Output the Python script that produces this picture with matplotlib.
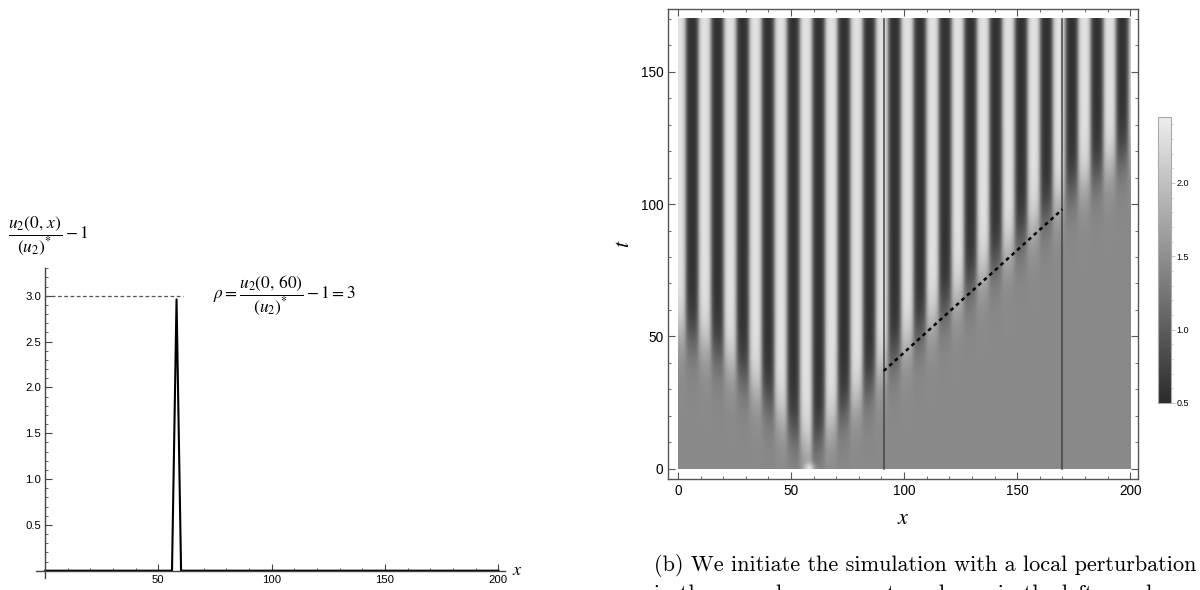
import numpy as np
import matplotlib
matplotlib.use("Agg")
import matplotlib.pyplot as plt
from matplotlib.colors import LinearSegmentedColormap
from matplotlib.ticker import MultipleLocator

plt.rcParams['mathtext.fontset'] = 'stix'
plt.rcParams['font.family'] = ['Liberation Sans', 'DejaVu Sans']

# left panel: initial profile u2(0,x)/(u2)* - 1
init_x = [0, 56, 58, 60, 200]
init_y = [0, 0, 2.96, 0, 0]
rho = 3.0
rho_line_end = 61

# right panel: space-time plot
x_max, t_max = 200, 170
wavelength = 11.2      # stripe spacing in x
dark_x0 = 6.0          # centre of first dark stripe
u_star = 1.45          # homogeneous state (grey)
amp = 0.88             # stripe amplitude
front_width = 5.5
# time at which the stripes appear, per x
front_x = [0, 10, 20, 30, 40, 50, 58, 65, 75, 85, 91, 130, 170, 172, 180, 190, 200]
front_t = [52, 48, 42, 34, 25, 15, 7, 14, 23, 31, 39, 70, 102, 105, 108, 114, 120]
bump_x, bump_t, bump_amp = 58, 0, 0.7   # initial perturbation spot
wall_x = [91, 170]
dash_x = [91, 170]
dash_t = [37, 98]
cbar_min, cbar_max = 0.5, 2.45
cbar_ticks = [0.5, 1.0, 1.5, 2.0]

caption1 = "(b) We initiate the simulation with a local perturbation"
caption2 = "in the second component as shown in the left panel."

fig = plt.figure(figsize=(12, 5.9), dpi=100)

# ---------- left panel ----------
ax = fig.add_axes([0.03, 0.0203, 0.391, 0.525])
ax.plot(init_x, init_y, color='black', lw=1.5)
ax.plot([0, rho_line_end], [rho, rho], ls=(0, (3, 2)), color='#555555', lw=0.9)
ax.set_xlim(-4, 203)
ax.set_ylim(-0.08, 3.3)
for s in ['top', 'right']:
    ax.spines[s].set_visible(False)
ax.spines['left'].set_position(('data', 0))
ax.spines['bottom'].set_position(('data', 0))
for s in ['left', 'bottom']:
    ax.spines[s].set_color('#444444')
    ax.spines[s].set_linewidth(1.0)
ax.set_xticks([50, 100, 150, 200])
ax.set_yticks([0.5, 1.0, 1.5, 2.0, 2.5, 3.0])
ax.set_yticklabels(['0.5', '1.0', '1.5', '2.0', '2.5', '3.0'])
ax.xaxis.set_minor_locator(MultipleLocator(10))
ax.yaxis.set_minor_locator(MultipleLocator(0.1))
ax.tick_params(which='both', direction='in', color='#444444', labelsize=8.2, pad=3)
ax.tick_params(which='major', length=5, width=0.8)
ax.tick_params(which='minor', length=2.5, width=0.6)
ax.text(74, rho, r'$\rho = \dfrac{u_2(0,\,60)}{(u_2)^{*}} - 1 = 3$', fontsize=12.5,
        va='center', ha='left')
ax.text(206, 0, r'$x$', fontsize=13, va='center', ha='left')
fig.text(0.007, 0.600, r'$\dfrac{u_2(0,\,x)}{(u_2)^{*}} - 1$', fontsize=12.5,
         va='center', ha='left')

# ---------- right panel ----------
xs = np.linspace(0, x_max, 401)
ts = np.linspace(0, t_max, 341)
X, T = np.meshgrid(xs, ts)
front = np.interp(X, front_x, front_t)
A = amp / (1 + np.exp(-(T - front) / front_width))
c = np.cos(2 * np.pi * (X - dark_x0) / wavelength + np.pi)
c = np.tanh(1.6 * c) / np.tanh(1.6)
U = u_star + A * c
U += bump_amp * np.exp(-((X - bump_x) / 2.5) ** 2 - ((T - bump_t) / 2.0) ** 2)

cmap = LinearSegmentedColormap.from_list('mgray', ['#2b2b2b', '#ededed'])
ax2 = fig.add_axes([0.5567, 0.1881, 0.3917, 0.7966])
im = ax2.imshow(U, extent=[0, x_max, 0, t_max], origin='lower', aspect='auto',
                cmap=cmap, vmin=cbar_min, vmax=cbar_max, interpolation='bilinear')
for wx in wall_x:
    ax2.plot([wx, wx], [0, t_max], color='#444444', lw=1.1)
ax2.plot(dash_x, dash_t, color='black', lw=1.8, ls=(0, (1.5, 1.5)))
ax2.set_xlim(-4.4, 203.5)
ax2.set_ylim(-3.8, 173.6)
ax2.set_xticks([0, 50, 100, 150, 200])
ax2.set_yticks([0, 50, 100, 150])
ax2.xaxis.set_minor_locator(MultipleLocator(10))
ax2.yaxis.set_minor_locator(MultipleLocator(10))
ax2.tick_params(which='both', direction='in', top=True, right=True,
                color='#555555', labelsize=9.8)
ax2.tick_params(which='major', length=5, width=0.8)
ax2.tick_params(which='minor', length=2.5, width=0.6)
for s in ax2.spines.values():
    s.set_color('#555555')
    s.set_linewidth(1.0)
ax2.set_xlabel(r'$x$', fontsize=16, labelpad=7)
ax2.set_ylabel(r'$t$', fontsize=16, labelpad=5)

cax = fig.add_axes([0.965, 0.317, 0.0108, 0.4847])
cb = fig.colorbar(im, cax=cax, ticks=cbar_ticks)
cb.ax.set_yticklabels(['0.5', '1.0', '1.5', '2.0'])
cb.ax.yaxis.set_minor_locator(MultipleLocator(0.1))
cb.ax.tick_params(which='both', direction='out', color='#bbbbbb', labelsize=6.5, pad=1)
cb.ax.tick_params(which='major', length=3, width=0.6)
cb.ax.tick_params(which='minor', length=1.5, width=0.5)
cb.outline.set_edgecolor('#aaaaaa')
cb.outline.set_linewidth(0.8)

# caption (second line runs off the bottom, as in the source page)
fig.text(0.545, 0.042, caption1, family='cmr10', fontsize=16, va='center', ha='left')
fig.text(0.545, -0.008, caption2, family='cmr10', fontsize=16, va='center', ha='left')

fig.savefig('out.png', dpi=100, facecolor='white')
